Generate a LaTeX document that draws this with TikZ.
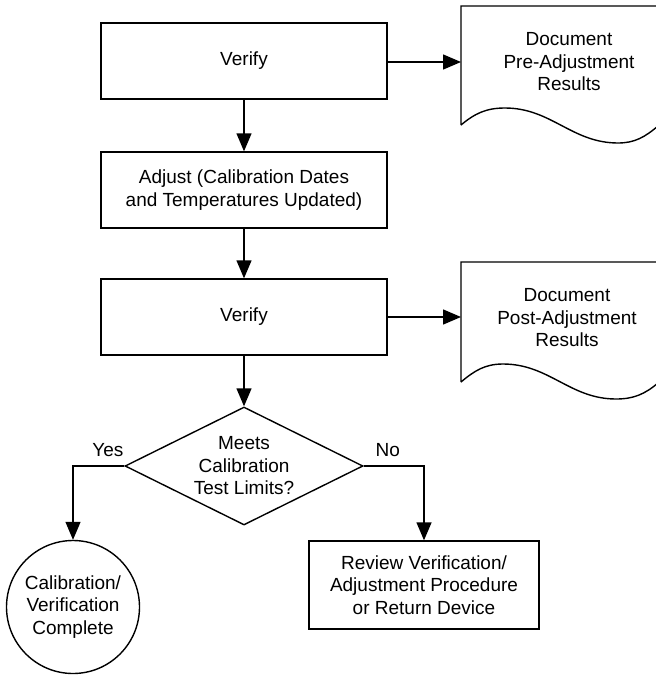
\documentclass[tikz,border=0pt]{standalone}
\usepackage{fontspec}
\setmainfont{Liberation Sans}
\usetikzlibrary{shapes.geometric}
\usetikzlibrary{arrows.meta}

\begin{document}
\begin{tikzpicture}[x=0.5pt, y=-0.5pt, line width=0.7pt,
    font=\fontsize{9.5}{11.25}\selectfont,
    arr/.style={-{Triangle[length=9pt,width=7.5pt]}},
    procbox/.style={draw, rectangle, align=center, inner sep=0pt,
      minimum width=143pt, minimum height=38pt},
    decision/.style={draw, diamond, aspect=2, align=center, inner sep=0pt,
      minimum width=119pt, minimum height=59pt},
    terminal/.style={draw, circle, align=center, inner sep=0pt,
      minimum size=66.5pt},
    doctext/.style={align=center, inner sep=0pt}]

        \useasboundingbox (0,0) rectangle (655,675);

        % Main column
        \node[procbox] (verA) at (244,61) {Verify};
        \node[procbox] (adjust) at (244,190) {Adjust (Calibration Dates\\and Temperatures Updated)};
        \node[procbox] (verB) at (244,317) {Verify};
        \node[decision] (check) at (244,466) {Meets\\Calibration\\Test Limits?};

        % Outcomes
        \node[terminal] (done) at (73,607) {Calibration/\\Verification\\Complete};
        \node[procbox, minimum width=115pt, minimum height=44pt] (review) at (424,585)
          {Review Verification/\\Adjustment Procedure\\or Return Device};

        % Pre-adjustment document
        \begin{scope}[shift={(461,6)}]
          \draw (0,119) -- (0,0) -- (197,0) -- (197,120)
            (0,119) to[out=40,in=180] (44,102) to[out=0,in=180] (157,137)
            to[out=0,in=220] (197,120);
          \node[doctext] (docA) at (108,56) {Document\\Pre-Adjustment\\Results};
          \coordinate (docAin) at (0,56);
        \end{scope}

        % Post-adjustment document
        \begin{scope}[shift={(461,262)}]
          \draw (0,120) -- (0,0) -- (197,0) -- (197,121)
            (0,120) to[out=40,in=180] (42,102) to[out=0,in=180] (155,137)
            to[out=0,in=220] (197,121);
          \node[doctext] (docB) at (106,56) {Document\\Post-Adjustment\\Results};
          \coordinate (docBin) at (0,55);
        \end{scope}

        % Connectors
        \draw[arr] (verA) -- (adjust);
        \draw[arr] (adjust) -- (verB);
        \draw[arr] (verB) -- (check);
        \draw[arr] (verA.east |- docAin) -- (docAin);
        \draw[arr] (verB.east |- docBin) -- (docBin);
        \draw[arr] (check.west) -| node[pos=0.16, above=1pt] {Yes} (done.north);
        \draw[arr] (check.east) -| node[pos=0.2, above=1pt] {No} (review.north);

\end{tikzpicture}
\end{document}
